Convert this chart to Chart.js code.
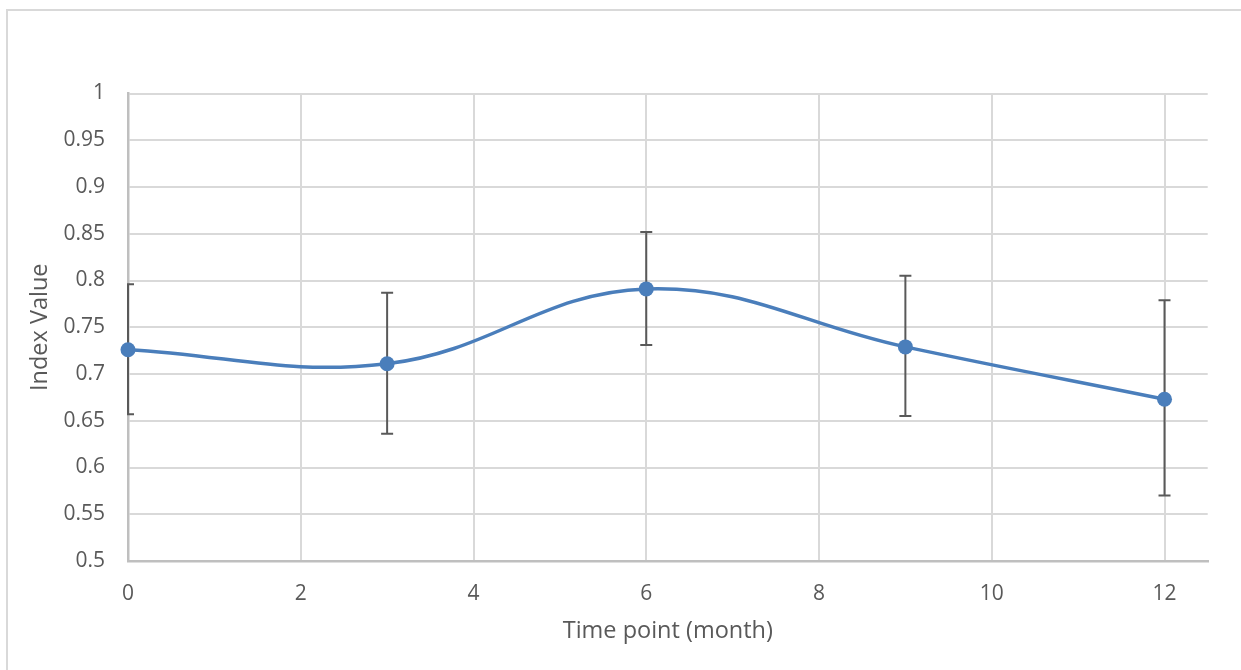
<!DOCTYPE html>
<html>
<head>
<meta charset="utf-8">
<script src="https://cdn.jsdelivr.net/npm/chart.js@4"></script>
<style>
  html, body { margin: 0; padding: 0; background: #ffffff; overflow: hidden; }
  #frame { position: absolute; left: 6px; top: 9px; width: 1240px; height: 670px; border: 2px solid #d9d9d9; box-sizing: border-box; }
  #wrap { position: absolute; left: 0; top: 0; width: 1241px; height: 670px; }
</style>
</head>
<body>
<div id="frame"></div>
<div id="wrap"><canvas id="c" width="1241" height="670"></canvas></div>
<script>
// ---- data ----
const months = [0, 3, 6, 9, 12];
const indexValue = [0.726, 0.711, 0.791, 0.729, 0.673];
const errUpper = [0.796, 0.787, 0.852, 0.805, 0.779];
const errLower = [0.657, 0.636, 0.731, 0.655, 0.570];
const xTicks = [0, 2, 4, 6, 8, 10, 12];
const xTitle = 'Time point (month)';
const yTitle = 'Index Value';

const FONT = "'Open Sans', 'Noto Sans', sans-serif";
const TEXT = '#595959';

const errorBars = {
  id: 'errorBars',
  beforeDatasetsDraw(chart) {
    const { ctx, scales: { x, y }, chartArea } = chart;
    ctx.save();
    ctx.beginPath();
    ctx.rect(chartArea.left - 1, chartArea.top - 20, chartArea.right - chartArea.left + 21, chartArea.bottom - chartArea.top + 40);
    ctx.clip();
    ctx.strokeStyle = '#595959';
    ctx.lineWidth = 2;
    const cap = 6;
    months.forEach((m, i) => {
      const px = x.getPixelForValue(m);
      const top = y.getPixelForValue(errUpper[i]);
      const bot = y.getPixelForValue(errLower[i]);
      ctx.beginPath();
      ctx.moveTo(px, top); ctx.lineTo(px, bot);
      ctx.moveTo(px - cap, top); ctx.lineTo(px + cap, top);
      ctx.moveTo(px - cap, bot); ctx.lineTo(px + cap, bot);
      ctx.stroke();
    });
    ctx.restore();
  }
};

new Chart(document.getElementById('c'), {
  type: 'line',
  data: {
    datasets: [{
      data: months.map((m, i) => ({ x: m, y: indexValue[i] })),
      borderColor: '#4a7ebb',
      backgroundColor: '#4a7ebb',
      borderWidth: 3.5,
      pointRadius: 7.5,
      pointHoverRadius: 7.5,
      pointBorderWidth: 0,
      tension: 0.4,
      clip: false,
      fill: false
    }]
  },
  options: {
    responsive: false,
    animation: false,
    events: [],
    layout: { padding: { top: 93.5, right: 33.3, bottom: 0, left: 0 } },
    plugins: { legend: { display: false }, tooltip: { enabled: false } },
    scales: {
      x: {
        type: 'linear',
        min: 0, max: 12.5,
        afterBuildTicks(scale) { scale.ticks = xTicks.map(v => ({ value: v })); },
        afterFit(scale) { scale.height = 109; },
        grid: { color: '#d9d9d9', lineWidth: 2, drawTicks: false },
        border: { color: '#bfbfbf', width: 2.5 },
        ticks: { padding: 20, color: TEXT, font: { family: FONT, size: 21 } },
        title: { display: true, text: xTitle, color: TEXT, font: { family: FONT, size: 23.5 }, padding: { top: 0, bottom: 25 } }
      },
      y: {
        min: 0.5, max: 1,
        ticks: {
          stepSize: 0.05,
          padding: 23,
          color: TEXT,
          font: { family: FONT, size: 21 },
          callback: v => String(Number(v.toFixed(2)))
        },
        afterFit(scale) { scale.width = 128; },
        grid: { color: '#d9d9d9', lineWidth: 2, drawTicks: false },
        border: { color: '#bfbfbf', width: 2.5 },
        title: { display: true, text: yTitle, color: TEXT, font: { family: FONT, size: 23.5 }, padding: { top: 26, bottom: 0 } }
      }
    }
  },
  plugins: [errorBars]
});
</script>
</body>
</html>
